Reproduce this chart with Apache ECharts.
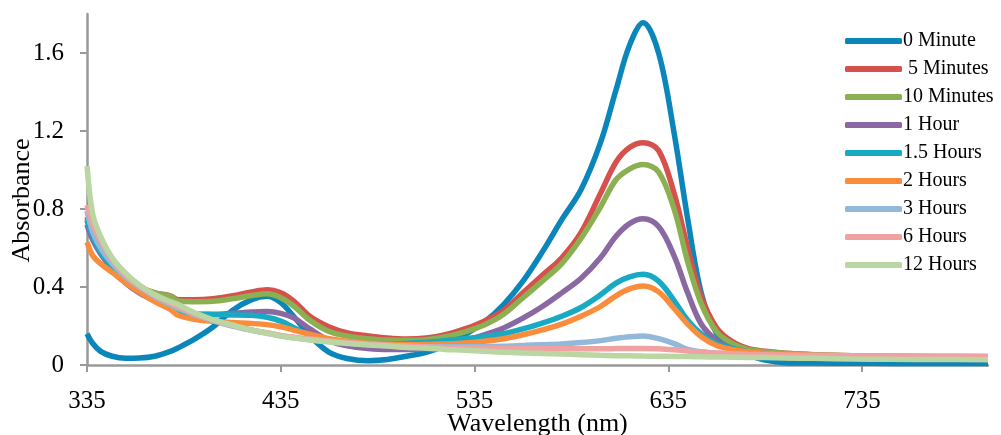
<!DOCTYPE html>
<html>
<head>
<meta charset="utf-8">
<script src="https://cdn.jsdelivr.net/npm/echarts@6/dist/echarts.min.js"></script>
<style>
  html, body { margin: 0; padding: 0; background: #fff; }
  #chart { width: 1001px; height: 435px; }
</style>
</head>
<body>
<div id="chart"></div>
<script>
const wavelengths = [335, 338, 342, 348, 355, 362, 370, 378, 382, 390, 400, 410, 420, 428, 435, 442, 450, 460, 470, 480, 490, 500, 510, 520, 530, 540, 550, 560, 570, 580, 590, 600, 608, 615, 622, 630, 638, 645, 652, 660, 668, 676, 685, 695, 710, 730, 750, 775, 800];

const seriesNames = ["0 Minute", " 5 Minutes", "10 Minutes", "1 Hour", "1.5 Hours", "2 Hours", "3 Hours", "6 Hours", "12 Hours"];
const seriesColors = ["#0b86bb", "#d6504c", "#8bb052", "#8a68a2", "#17aac2", "#fa8d3b", "#92b8da", "#f0a2a2", "#bad6a2"];

const min0 = [0.16, 0.11, 0.07, 0.045, 0.035, 0.036, 0.045, 0.07, 0.088, 0.13, 0.195, 0.28, 0.335, 0.352, 0.32, 0.245, 0.15, 0.065, 0.032, 0.022, 0.028, 0.045, 0.065, 0.1, 0.155, 0.22, 0.31, 0.43, 0.58, 0.745, 0.9, 1.14, 1.41, 1.64, 1.755, 1.6, 1.19, 0.75, 0.37, 0.16, 0.08, 0.05, 0.025, 0.012, 0.01, 0.009, 0.008, 0.008, 0.008];
const min5 = [0.76, 0.68, 0.6, 0.52, 0.45, 0.4, 0.37, 0.355, 0.335, 0.335, 0.34, 0.355, 0.375, 0.386, 0.37, 0.325, 0.25, 0.195, 0.163, 0.149, 0.138, 0.133, 0.138, 0.155, 0.185, 0.225, 0.28, 0.37, 0.46, 0.55, 0.68, 0.88, 1.04, 1.115, 1.14, 1.1, 0.88, 0.6, 0.35, 0.19, 0.12, 0.085, 0.07, 0.06, 0.053, 0.048, 0.045, 0.042, 0.04];
const min10 = [0.74, 0.66, 0.59, 0.51, 0.445, 0.4, 0.37, 0.352, 0.328, 0.325, 0.327, 0.34, 0.356, 0.365, 0.345, 0.3, 0.23, 0.172, 0.147, 0.135, 0.128, 0.127, 0.13, 0.145, 0.17, 0.205, 0.26, 0.345, 0.43, 0.52, 0.65, 0.81, 0.95, 1.005, 1.028, 0.99, 0.8, 0.53, 0.315, 0.17, 0.11, 0.08, 0.068, 0.06, 0.053, 0.048, 0.045, 0.042, 0.04];
const hour1 = [0.72, 0.64, 0.57, 0.49, 0.42, 0.37, 0.33, 0.3, 0.27, 0.262, 0.26, 0.265, 0.272, 0.274, 0.265, 0.24, 0.185, 0.125, 0.097, 0.085, 0.08, 0.08, 0.085, 0.1, 0.125, 0.155, 0.19, 0.24, 0.3, 0.37, 0.445, 0.55, 0.66, 0.725, 0.75, 0.71, 0.56, 0.37, 0.21, 0.125, 0.085, 0.068, 0.058, 0.052, 0.047, 0.043, 0.04, 0.037, 0.035];
const hour15 = [0.745, 0.66, 0.58, 0.5, 0.43, 0.38, 0.335, 0.3, 0.275, 0.262, 0.258, 0.257, 0.255, 0.245, 0.225, 0.19, 0.155, 0.13, 0.115, 0.11, 0.108, 0.11, 0.117, 0.125, 0.135, 0.145, 0.16, 0.185, 0.215, 0.25, 0.295, 0.36, 0.42, 0.452, 0.465, 0.43, 0.33, 0.23, 0.16, 0.11, 0.085, 0.068, 0.06, 0.054, 0.048, 0.043, 0.04, 0.037, 0.035];
const hour2 = [0.63, 0.56, 0.52, 0.475, 0.42, 0.375, 0.325, 0.285, 0.255, 0.235, 0.224, 0.218, 0.213, 0.207, 0.196, 0.178, 0.158, 0.135, 0.12, 0.112, 0.106, 0.104, 0.105, 0.108, 0.113, 0.122, 0.135, 0.155, 0.18, 0.21, 0.25, 0.3, 0.355, 0.39, 0.405, 0.375, 0.29, 0.21, 0.145, 0.1, 0.08, 0.068, 0.06, 0.055, 0.05, 0.045, 0.042, 0.04, 0.038];
const hour3 = [0.79, 0.68, 0.6, 0.52, 0.45, 0.4, 0.35, 0.31, 0.29, 0.26, 0.228, 0.2, 0.178, 0.163, 0.15, 0.14, 0.13, 0.12, 0.112, 0.105, 0.1, 0.096, 0.094, 0.093, 0.093, 0.094, 0.096, 0.1, 0.104, 0.108, 0.115, 0.125, 0.137, 0.145, 0.149, 0.135, 0.11, 0.08, 0.068, 0.06, 0.055, 0.05, 0.045, 0.042, 0.038, 0.035, 0.033, 0.031, 0.03];
const hour6 = [0.82, 0.72, 0.64, 0.54, 0.46, 0.405, 0.355, 0.318, 0.3, 0.265, 0.23, 0.203, 0.18, 0.165, 0.152, 0.142, 0.133, 0.123, 0.115, 0.108, 0.102, 0.097, 0.093, 0.09, 0.088, 0.086, 0.085, 0.084, 0.083, 0.083, 0.083, 0.083, 0.084, 0.085, 0.085, 0.083, 0.078, 0.072, 0.066, 0.062, 0.058, 0.055, 0.053, 0.051, 0.05, 0.048, 0.047, 0.046, 0.045];
const hour12 = [1.02, 0.77, 0.66, 0.55, 0.47, 0.41, 0.36, 0.325, 0.31, 0.27, 0.232, 0.205, 0.178, 0.163, 0.148, 0.138, 0.128, 0.118, 0.11, 0.103, 0.097, 0.09, 0.086, 0.08, 0.076, 0.07, 0.066, 0.062, 0.059, 0.056, 0.053, 0.05, 0.048, 0.047, 0.046, 0.045, 0.044, 0.043, 0.042, 0.041, 0.04, 0.039, 0.038, 0.036, 0.034, 0.031, 0.029, 0.028, 0.027];

const allValues = [min0, min5, min10, hour1, hour15, hour2, hour3, hour6, hour12];

const xTicks = [335, 435, 535, 635, 735];
const yTicks = [0, 0.4, 0.8, 1.2, 1.6];

const font = "Liberation Serif";
const axisGray = "#9a9a9a";

const chart = echarts.init(document.getElementById("chart"));

chart.setOption({
  animation: false,
  grid: { left: 87, right: 13, top: 14, bottom: 70, containLabel: false, outerBoundsMode: "none" },
  legend: {
    orient: "vertical",
    left: 840,
    top: 26,
    icon: "roundRect",
    itemWidth: 57,
    itemHeight: 6,
    itemGap: 8,
    textStyle: { fontFamily: font, fontSize: 20, lineHeight: 20, color: "#000", padding: [0, 0, 0, -4] },
    data: seriesNames,
  },
  xAxis: {
    type: "value",
    min: 335,
    max: 800,
    name: "Wavelength (nm)",
    nameLocation: "middle",
    nameGap: 46,
    nameMoveOverlap: false,
    nameTextStyle: { fontFamily: font, fontSize: 26, color: "#000" },
    axisLine: { lineStyle: { color: axisGray, width: 2.5 } },
    axisTick: { show: true, length: 7, lineStyle: { color: axisGray, width: 2 }, customValues: xTicks },
    axisLabel: { fontFamily: font, fontSize: 25, color: "#000", margin: 24, customValues: xTicks },
    splitLine: { show: false },
  },
  yAxis: {
    type: "value",
    min: 0,
    max: 1.8,
    name: "Absorbance",
    nameLocation: "middle",
    nameGap: 52,
    nameMoveOverlap: false,
    nameTextStyle: { fontFamily: font, fontSize: 26, color: "#000", padding: [0, 22, 0, 0] },
    axisLine: { show: true, lineStyle: { color: axisGray, width: 2.5 } },
    axisTick: { show: true, length: 7, lineStyle: { color: axisGray, width: 2 }, customValues: yTicks },
    axisLabel: {
      fontFamily: font,
      fontSize: 25,
      color: "#000",
      margin: 23,
      customValues: yTicks,
      formatter: (v) => (v === 0 ? "0" : v.toFixed(1)),
    },
    splitLine: { show: false },
  },
  series: seriesNames.map((name, i) => ({
    name: name,
    type: "line",
    symbol: "none",
    smooth: 0.35,
    color: seriesColors[i],
    lineStyle: { width: 5.5, color: seriesColors[i] },
    data: wavelengths.map((w, j) => [w, allValues[i][j]]),
  })),
});
</script>
</body>
</html>
